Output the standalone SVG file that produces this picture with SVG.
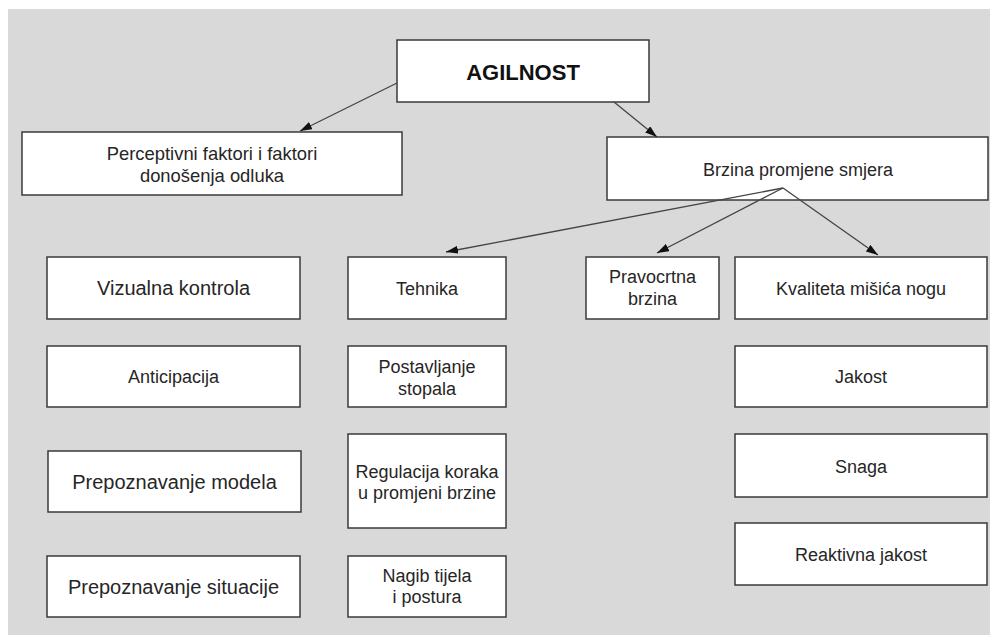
<svg xmlns="http://www.w3.org/2000/svg" width="990" height="635" viewBox="0 0 990 635">
<style>
.box{fill:#fff;stroke:#3a3a3a;stroke-width:1.5}
text{font-family:"Liberation Sans",Arial,sans-serif;font-size:18px;fill:#262626;text-anchor:middle}
.title{font-weight:bold;font-size:22px;fill:#111}
.big{font-size:20px}
.conn{stroke:#444;stroke-width:1.3;fill:none;marker-end:url(#ah)}
</style>
<defs>
<marker id="ah" viewBox="0 0 12 8" refX="12" refY="4" markerWidth="12" markerHeight="8" markerUnits="userSpaceOnUse" orient="auto">
<path d="M0,0 L12,4 L0,8 Z" fill="#111"/>
</marker>
</defs>
<rect x="0" y="0" width="990" height="635" fill="#fff"/>
<rect x="8" y="9" width="982" height="626" fill="#d9d9d9"/>

<g id="agilnost"><rect class="box" x="397" y="40" width="252" height="62"/><text class="title" x="523" y="80">AGILNOST</text></g>
<g id="perceptivni"><rect class="box" x="22" y="132" width="380" height="63"/><text x="212" y="160" style="font-size:18.4px">Perceptivni faktori i faktori</text><text x="212" y="182" style="font-size:18.4px">donošenja odluka</text></g>
<g id="brzina"><rect class="box" x="607" y="137" width="381" height="63"/><text x="798" y="176">Brzina promjene smjera</text></g>

<g id="vizualna"><rect class="box" x="47" y="257" width="253" height="62"/><text class="big" x="173.5" y="295">Vizualna kontrola</text></g>
<g id="anticipacija"><rect class="box" x="47" y="346" width="253" height="61"/><text x="173.5" y="383">Anticipacija</text></g>
<g id="modela"><rect class="box" x="48" y="451" width="253" height="61"/><text class="big" x="174.5" y="489">Prepoznavanje modela</text></g>
<g id="situacije"><rect class="box" x="47" y="556" width="253" height="61"/><text class="big" x="173.5" y="594">Prepoznavanje situacije</text></g>

<g id="tehnika"><rect class="box" x="348" y="257" width="158" height="62"/><text x="427" y="295">Tehnika</text></g>
<g id="postavljanje"><rect class="box" x="348" y="346" width="158" height="61"/><text x="427" y="373">Postavljanje</text><text x="427" y="395">stopala</text></g>
<g id="regulacija"><rect class="box" x="348" y="434" width="158" height="94"/><text x="427" y="478">Regulacija koraka</text><text x="427" y="499">u promjeni brzine</text></g>
<g id="nagib"><rect class="box" x="348" y="556" width="158" height="61"/><text x="427" y="582">Nagib tijela</text><text x="427" y="603">i postura</text></g>

<g id="pravocrtna"><rect class="box" x="586" y="257" width="133" height="62"/><text x="652.5" y="283">Pravocrtna</text><text x="652.5" y="305">brzina</text></g>
<g id="kvaliteta"><rect class="box" x="735" y="257" width="252" height="62"/><text x="861" y="295">Kvaliteta mišića nogu</text></g>
<g id="jakost"><rect class="box" x="735" y="346" width="252" height="61"/><text x="861" y="383">Jakost</text></g>
<g id="snaga"><rect class="box" x="735" y="434" width="252" height="63"/><text x="861" y="473">Snaga</text></g>
<g id="reaktivna"><rect class="box" x="735" y="523" width="252" height="62"/><text x="861" y="561">Reaktivna jakost</text></g>

<g id="connectors">
<line class="conn" x1="397" y1="83" x2="300" y2="131"/>
<line class="conn" x1="614" y1="102" x2="657" y2="137"/>
<line class="conn" x1="783" y1="188" x2="446" y2="252"/>
<line class="conn" x1="783" y1="188" x2="657" y2="253"/>
<line class="conn" x1="783" y1="188" x2="878" y2="255"/>
</g>
</svg>
